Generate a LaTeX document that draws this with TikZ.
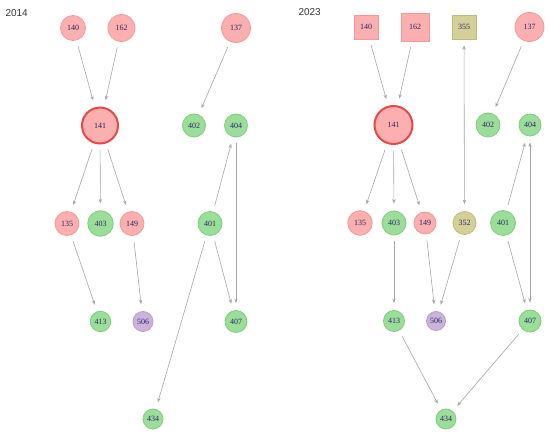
\documentclass[tikz,border=0pt]{standalone}
\usepackage{fontspec}
\setmainfont{Liberation Serif}
\newfontfamily\labfont{Liberation Sans}
\usetikzlibrary{arrows.meta}
\definecolor{pinkf}{HTML}{FBAFAF}
\definecolor{pinkd}{HTML}{F29898}
\definecolor{greenf}{HTML}{9ADE9A}
\definecolor{greend}{HTML}{80CC80}
\definecolor{purpf}{HTML}{CDB2DA}
\definecolor{purpd}{HTML}{B99DC8}
\definecolor{olivf}{HTML}{D4D098}
\definecolor{olivd}{HTML}{BEBA7E}
\definecolor{hubd}{HTML}{E84848}
\definecolor{edgec}{HTML}{A6A6A6}
\definecolor{txtc}{HTML}{2E2468}
\tikzset{
  nd/.style={circle,draw,line width=0.8pt,inner sep=0pt,text=txtc,
    font=\fontsize{8}{8}\selectfont},
  pk/.style={nd,fill=pinkf,draw=pinkd},
  gr/.style={nd,fill=greenf,draw=greend},
  pu/.style={nd,fill=purpf,draw=purpd},
  ol/.style={nd,fill=olivf,draw=olivd},
  sq/.style={rectangle},
  hub/.style={pk,draw=hubd,line width=2pt},
  lnk/.style={draw=edgec,line width=0.6pt,-{Stealth[length=4.5pt,width=3.4pt]},
    shorten <=6pt,shorten >=7pt},
  lnkb/.style={lnk,{Stealth[length=4.5pt,width=3.4pt]}-{Stealth[length=4.5pt,width=3.4pt]}},
  yr/.style={anchor=west,text=black!80,font=\labfont\fontsize{10}{10}\selectfont}
}
\begin{document}
\begin{tikzpicture}[x=1pt,y=-1pt]
\useasboundingbox (0,0) rectangle (550,435);
\node[yr] (y14) at (2,13) {2014};
\node[yr] (y23) at (295,12) {2023};
% left panel
\node[pk,minimum size=25pt] (a140) at (73,28) {140};
\node[pk,minimum size=27pt] (a162) at (121.5,28) {162};
\node[pk,minimum size=29pt] (a137) at (236,28) {137};
\node[hub,minimum size=36pt] (a141) at (100,125.5) {141};
\node[gr,minimum size=23pt] (a402) at (194,125.5) {402};
\node[gr,minimum size=23pt] (a404) at (236,125.5) {404};
\node[pk,minimum size=24pt] (a135) at (67,223.5) {135};
\node[gr,minimum size=25.5pt] (a403) at (100.5,223.5) {403};
\node[pk,minimum size=24pt] (a149) at (132,223.5) {149};
\node[gr,minimum size=24pt] (a401) at (210,223.5) {401};
\node[gr,minimum size=20.5pt] (a413) at (100.5,321.5) {413};
\node[pu,minimum size=20pt] (a506) at (143,321.5) {506};
\node[gr,minimum size=22pt] (a407) at (236,321.5) {407};
\node[gr,minimum size=20pt] (a434) at (153,419) {434};
\draw[lnk] (a140) -- (a141);
\draw[lnk] (a162) -- (a141);
\draw[lnk] (a137) -- (a402);
\draw[lnk] (a141) -- (a135);
\draw[lnk] (a141) -- (a403);
\draw[lnk] (a141) -- (a149);
\draw[lnk] (a401) -- (a404);
\draw[lnk] (a404) -- (a407);
\draw[lnk] (a401) -- (a407);
\draw[lnk] (a135) -- (a413);
\draw[lnk] (a149) -- (a506);
\draw[lnk] (a401) -- (a434);
% right panel
\node[pk,sq,minimum size=24pt] (b140) at (366,27) {140};
\node[pk,sq,minimum size=28pt] (b162) at (415,27) {162};
\node[ol,sq,minimum size=24pt] (b355) at (464,27) {355};
\node[pk,minimum size=29pt] (b137) at (529.5,27) {137};
\node[hub,minimum size=38pt] (b141) at (393.5,125) {141};
\node[gr,minimum size=24pt] (b402) at (488,125) {402};
\node[gr,minimum size=22pt] (b404) at (530,125) {404};
\node[pk,minimum size=24.5pt] (b135) at (360,223) {135};
\node[gr,minimum size=24pt] (b403) at (394,223) {403};
\node[pk,minimum size=22pt] (b149) at (425,223) {149};
\node[ol,minimum size=23pt] (b352) at (464.5,223) {352};
\node[gr,minimum size=25pt] (b401) at (503,223) {401};
\node[gr,minimum size=21pt] (b413) at (394,321) {413};
\node[pu,minimum size=19pt] (b506) at (436,321) {506};
\node[gr,minimum size=22pt] (b407) at (530,321) {407};
\node[gr,minimum size=20pt] (b434) at (446,419) {434};
\draw[lnk] (b140) -- (b141);
\draw[lnk] (b162) -- (b141);
\draw[lnk] (b137) -- (b402);
\draw[lnk] (b141) -- (b135);
\draw[lnk] (b141) -- (b403);
\draw[lnk] (b141) -- (b149);
\draw[lnkb] (b355) -- (b352);
\draw[lnk] (b401) -- (b404);
\draw[lnkb] (b404) -- (b407);
\draw[lnk] (b401) -- (b407);
\draw[lnk] (b403) -- (b413);
\draw[lnk] (b149) -- (b506);
\draw[lnk] (b352) -- (b506);
\draw[lnk] (b413) -- (b434);
\draw[lnk] (b407) -- (b434);
\end{tikzpicture}
\end{document}
